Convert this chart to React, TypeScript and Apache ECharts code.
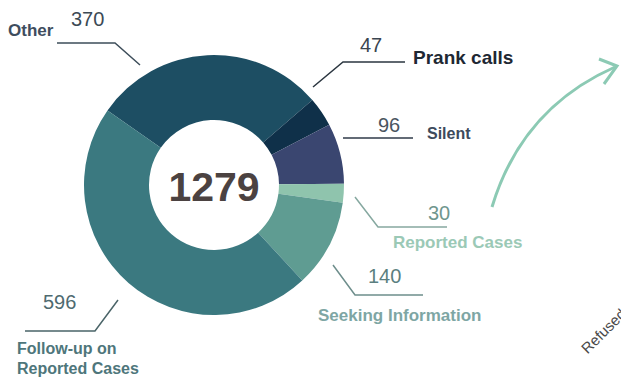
import React, { useEffect, useRef } from "react";
import * as echarts from "echarts";

const categories = ["Other", "Prank calls", "Silent", "Reported Cases", "Seeking Information", "Follow-up on\nReported Cases"];
const values = [370, 47, 96, 30, 140, 596];
const sliceColors = ["#1d4e63", "#0f3049", "#3a4670", "#8fc4ad", "#5f9c92", "#3b7980"];
const sideNote = "Refused";

// label placement (layout only)
const labelLayout = [
  { vx: 71, vy: 19, nx: 8, ny: 30, nSize: 17, nColor: "#3e4d5e", vColor: "#3c4a55", line: [[57, 43], [115, 43], [140, 65]], lColor: "#3d4d5a" },
  { vx: 360, vy: 45, nx: 413, ny: 57, nSize: 19, nColor: "#1e2833", vColor: "#3a4550", line: [[313, 87], [343, 62], [405, 62]], lColor: "#2b3640" },
  { vx: 378, vy: 125, nx: 427, ny: 133, nSize: 16, nColor: "#3d4a5c", vColor: "#4a5560", line: [[343, 138], [413, 138]], lColor: "#2f3a48" },
  { vx: 428, vy: 213, nx: 393, ny: 242, nSize: 17, nColor: "#9bc9b6", vColor: "#6f968e", line: [[355, 197], [378, 227], [447, 227]], lColor: "#86a8a0" },
  { vx: 368, vy: 276, nx: 318, ny: 315, nSize: 17, nColor: "#7ea6a4", vColor: "#5b7f80", line: [[333, 265], [355, 295], [423, 295]], lColor: "#6e8e8c" },
  { vx: 43, vy: 302, nx: 17, ny: 358, nSize: 16, nColor: "#4e767b", vColor: "#4e6a70", line: [[25, 331], [95, 331], [118, 300]], lColor: "#4a6468" },
];

export default function App() {
  const ref = useRef<HTMLDivElement>(null);
  useEffect(() => {
    if (!ref.current) return;
    const chart = echarts.init(ref.current, undefined, { renderer: "svg" });
    const total = values.reduce((a, b) => a + b, 0);
    const graphics: any[] = [];
    labelLayout.forEach((l, i) => {
      graphics.push({
        type: "polyline",
        shape: { points: l.line },
        style: { stroke: l.lColor, lineWidth: 1.5, fill: null },
      });
      graphics.push({
        type: "text",
        x: l.vx,
        y: l.vy,
        style: { text: String(values[i]), fill: l.vColor, fontSize: 20, fontFamily: "Liberation Sans, Arial, sans-serif", textAlign: "left", textVerticalAlign: "middle" },
      });
      graphics.push({
        type: "text",
        x: l.nx,
        y: l.ny,
        style: { text: categories[i], fill: l.nColor, fontSize: l.nSize, fontWeight: "bold", lineHeight: 20, fontFamily: "Liberation Sans, Arial, sans-serif", textAlign: "left", textVerticalAlign: "middle" },
      });
    });
    graphics.push({
      type: "text",
      x: 214,
      y: 187,
      style: { text: String(total), fill: "#4b4241", fontSize: 41, fontWeight: "bold", fontFamily: "Liberation Sans, Arial, sans-serif", textAlign: "center", textVerticalAlign: "middle" },
    });
    graphics.push({
      type: "bezierCurve",
      shape: { x1: 492, y1: 207, x2: 615, y2: 67, cpx1: 522, cpy1: 108 },
      style: { stroke: "#8ccab4", lineWidth: 3, fill: null },
    });
    graphics.push({
      type: "polyline",
      shape: { points: [[599, 59], [617, 66], [604, 84]] },
      style: { stroke: "#8ccab4", lineWidth: 3, fill: null },
    });
    graphics.push({
      type: "text",
      x: 589,
      y: 356,
      rotation: Math.PI / 4,
      style: { text: sideNote, fill: "#4a4a4a", fontSize: 15, fontFamily: "Liberation Sans, Arial, sans-serif", textAlign: "left", textVerticalAlign: "bottom" },
    });
    chart.setOption({
      animation: false,
      backgroundColor: "#ffffff",
      series: [
        {
          type: "pie",
          center: [214, 185],
          radius: [65, 130],
          startAngle: 145,
          clockwise: true,
          label: { show: false },
          labelLine: { show: false },
          silent: true,
          data: categories.map((c, i) => ({ name: c, value: values[i], itemStyle: { color: sliceColors[i] } })),
        },
      ],
      graphic: graphics,
    });
    return () => chart.dispose();
  }, []);
  return <div ref={ref} style={{ position: "absolute", left: 0, top: 0, width: 621, height: 382 }} />;
}
